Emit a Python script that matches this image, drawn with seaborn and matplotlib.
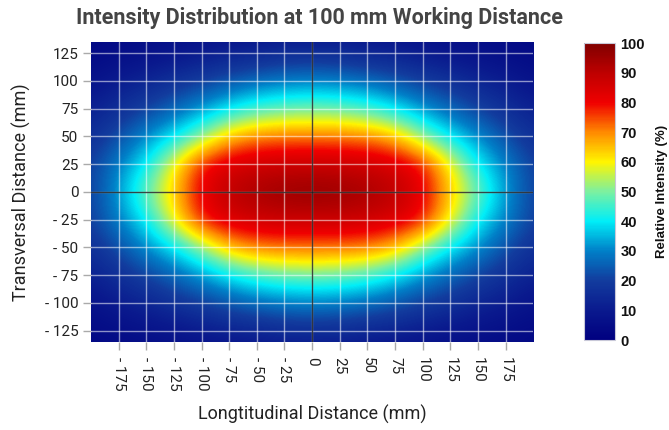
import numpy as np
import matplotlib
matplotlib.use("Agg")
import matplotlib.pyplot as plt
import seaborn as sns

x_pos = list(range(-200, 201, 25))
y_pos = list(range(-150, 151, 25))

# relative intensity (%), rows from y=-150 up to y=150
intensity = [
    [3, 4, 4, 5, 5, 6, 6, 7, 7, 7, 6, 6, 5, 5, 4, 4, 3],
    [4, 5, 7, 8, 10, 12, 13, 15, 15, 15, 13, 12, 10, 8, 7, 5, 4],
    [7, 11, 13, 17, 20, 24, 27, 29, 30, 29, 27, 24, 20, 17, 13, 11, 7],
    [12, 16, 21, 26, 32, 39, 45, 48, 49, 48, 45, 39, 32, 26, 21, 16, 12],
    [16, 23, 31, 39, 51, 66, 71, 72, 72, 72, 71, 66, 51, 39, 31, 23, 16],
    [20, 30, 40, 60, 80, 85, 87, 88, 88, 88, 87, 85, 80, 60, 40, 30, 20],
    [20, 33, 49, 64, 82, 90, 94, 96, 97, 96, 94, 90, 82, 64, 49, 33, 20],
    [20, 30, 40, 60, 80, 85, 87, 88, 88, 88, 87, 85, 80, 60, 40, 30, 20],
    [16, 23, 31, 39, 51, 66, 71, 72, 72, 72, 71, 66, 51, 39, 31, 23, 16],
    [12, 16, 21, 26, 32, 39, 45, 48, 49, 48, 45, 39, 32, 26, 21, 16, 12],
    [7, 11, 13, 17, 20, 24, 27, 29, 30, 29, 27, 24, 20, 17, 13, 11, 7],
    [4, 5, 7, 8, 10, 12, 13, 15, 15, 15, 13, 12, 10, 8, 7, 5, 4],
    [3, 4, 4, 5, 5, 6, 6, 7, 7, 7, 6, 6, 5, 5, 4, 4, 3],
]

x_ticks = list(range(-175, 176, 25))
y_ticks = list(range(-125, 126, 25))
cbar_ticks = list(range(0, 101, 10))

# colours of the scale at 0, 10, ..., 100 %
scale_colors = ["#000080", "#0A1A8E", "#123C9E", "#0080C8", "#00EEF8",
                "#7CF0A0", "#FFF500", "#FF8A00", "#F00000", "#BE0000", "#800000"]

sns.set_theme(style="white")
plt.rcParams['font.family'] = ['Roboto', 'DejaVu Sans']

cmap = sns.blend_palette(scale_colors, as_cmap=True)

fig = plt.figure(figsize=(6.69, 4.30), dpi=100)
ax = fig.add_axes([0.136, 0.205, 0.661, 0.697])
cax = fig.add_axes([0.873, 0.209, 0.046, 0.691])

Z = np.array(intensity, dtype=float)
dx = (x_pos[1] - x_pos[0]) / 2
dy = (y_pos[1] - y_pos[0]) / 2
im = ax.imshow(Z, cmap=cmap, vmin=0, vmax=100, origin='lower', aspect='auto',
               interpolation='bicubic',
               extent=[x_pos[0] - dx, x_pos[-1] + dx, y_pos[0] - dy, y_pos[-1] + dy])
ax.set_xlim(-200, 200)
ax.set_ylim(-135, 135)

# grid + zero lines
for xv in x_ticks:
    ax.axvline(xv, color='white', alpha=0.55, lw=1, zorder=2)
for yv in y_ticks:
    ax.axhline(yv, color='white', alpha=0.55, lw=1, zorder=2)
ax.axvline(0, color='#1a1a1a', alpha=0.8, lw=1, zorder=3)
ax.axhline(0, color='#1a1a1a', alpha=0.8, lw=1, zorder=3)

def fmt(v):
    return f"- {abs(v)}" if v < 0 else f"{v}"

ax.set_xticks(x_ticks)
ax.set_xticklabels([fmt(v) for v in x_ticks], rotation=-90, fontsize=11, color='#222222')
ax.set_yticks(y_ticks)
ax.set_yticklabels([fmt(v) for v in y_ticks], fontsize=11, color='#222222')
ax.tick_params(axis='both', length=6, width=1, color='#aaaaaa', bottom=True, left=True)
ax.tick_params(axis='x', pad=5)
ax.tick_params(axis='y', pad=3)
for s in ax.spines.values():
    s.set_visible(False)

ax.set_xlabel('Longtitudinal Distance (mm)', fontsize=13, color='#222222', labelpad=10)
ax.set_ylabel('Transversal Distance (mm)', fontsize=13, color='#222222', labelpad=10)

fig.text(0.478, 0.958, 'Intensity Distribution at 100 mm Working Distance',
         ha='center', va='center', fontsize=15.5, fontweight='bold', color='#444444')

cb = fig.colorbar(im, cax=cax, ticks=cbar_ticks)
cb.outline.set_edgecolor('#c8c8d8')
cb.outline.set_linewidth(0.8)
cax.tick_params(length=0, pad=4)
for t in cax.get_yticklabels():
    t.set_fontfamily(['Liberation Sans', 'DejaVu Sans'])
    t.set_fontweight('bold')
    t.set_fontsize(10.5)
    t.set_color('#111111')
cb.set_label('Relative Intensity (%)', fontsize=9.5, fontweight='bold',
             family=['Liberation Sans', 'DejaVu Sans'], labelpad=8, color='#111111')

fig.savefig('out.png', dpi=100)
